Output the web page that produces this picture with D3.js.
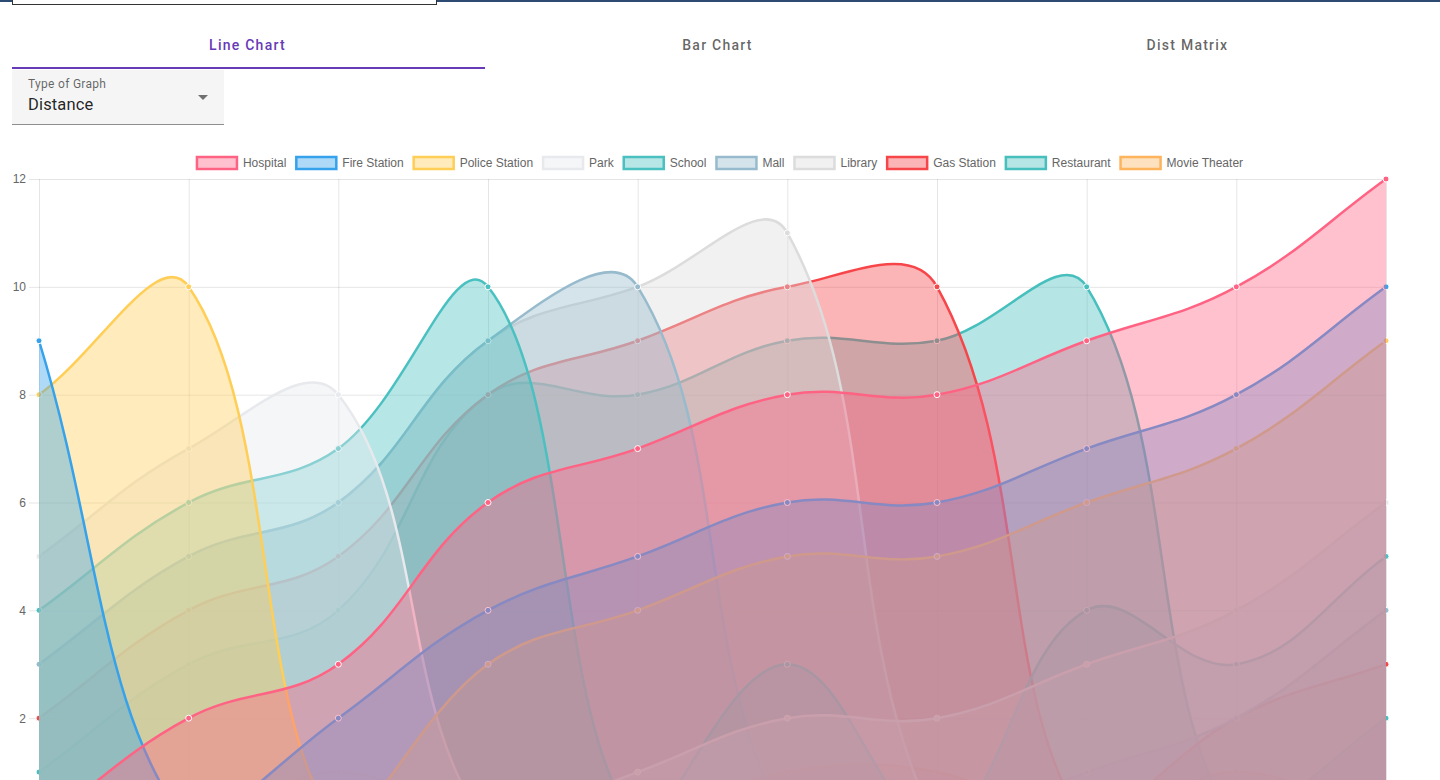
<!DOCTYPE html>
<html lang="en">
<head>
  <meta charset="UTF-8">
  <title>Line Chart</title>
  <style>
    body, html {
      margin: 0;
      padding: 0;
      width: 1440px;
      height: 780px;
      overflow: hidden;
      background: #fff;
      font-family: Roboto, "Noto Sans", sans-serif;
    }
    .topbar { position: absolute; left: 0; top: 0; width: 1440px; height: 2px; background: #2d4a73; }
    .searchbox { position: absolute; left: 12px; top: -20px; width: 423px; height: 23px; border: 1px solid #333; background: #fff; }
    .tab {
      position: absolute; top: 24px; width: 471px; height: 42px;
      text-align: center; line-height: 42px;
      font-size: 14px; font-weight: 500; letter-spacing: 1.25px;
      color: rgba(0, 0, 0, 0.62);
    }
    .tab.active { color: #673ab7; }
    .ink { position: absolute; left: 12px; top: 67px; width: 473px; height: 2px; background: #673ab7; }
    .select {
      position: absolute; left: 12px; top: 70px; width: 212px; height: 54px;
      background: #f5f5f5; border-bottom: 1px solid rgba(0, 0, 0, 0.42);
    }
    .select .label { position: absolute; left: 16px; top: 7px; font-size: 12px; color: rgba(0, 0, 0, 0.6); letter-spacing: 0.3px; }
    .select .value { position: absolute; left: 16px; top: 25px; font-size: 16.5px; color: rgba(0, 0, 0, 0.87); letter-spacing: 0.15px; }
    .select .arrow {
      position: absolute; left: 186px; top: 25px; width: 0; height: 0;
      border-left: 5px solid transparent; border-right: 5px solid transparent;
      border-top: 5px solid rgba(0, 0, 0, 0.54);
    }
    #svg { position: absolute; left: 0; top: 0; }
  </style>
</head>
<body>
  <div class="topbar"></div>
  <div class="searchbox"></div>

  <div class="tab active" style="left:12px">Line Chart</div>
  <div class="tab" style="left:482px">Bar Chart</div>
  <div class="tab" style="left:952px">Dist Matrix</div>
  <div class="ink"></div>

  <div class="select">
    <div class="label">Type of Graph</div>
    <div class="value">Distance</div>
    <div class="arrow"></div>
  </div>

  <svg id="svg" width="1440" height="780"></svg>

  <script src="https://d3js.org/d3.v7.min.js"></script>
  <script>
    // x categories (their labels sit below the visible window, so none are drawn)
    const categories = ['1', '2', '3', '4', '5', '6', '7', '8', '9', '10']
    const yTicks = [0, 2, 4, 6, 8, 10, 12]
    const yLabels = [2, 4, 6, 8, 10, 12]

    const seriesNames = ['Hospital', 'Fire Station', 'Police Station', 'Park', 'School',
      'Mall', 'Library', 'Gas Station', 'Restaurant', 'Movie Theater']

    // distances
    const hospital = [0, 2, 3, 6, 7, 8, 8, 9, 10, 12]
    const fireStation = [9, 0, 2, 4, 5, 6, 6, 7, 8, 10]
    const policeStation = [8, 10, 0, 3, 4, 5, 5, 6, 7, 9]
    const park = [5, 7, 8, 0, 1, 2, 2, 3, 4, 6]
    const school = [4, 6, 7, 10, 0, 3, 0, 4, 3, 5]
    const mall = [3, 5, 6, 9, 10, 0, 0, 1, 2, 4]
    const library = [3, 5, 6, 9, 10, 11, 0, 0, 0, 0]
    const gasStation = [2, 4, 5, 8, 9, 10, 10, 0, 2, 3]
    const restaurant = [1, 3, 4, 8, 8, 9, 9, 10, 0, 2]
    const movieTheater = [0, 0, 1, 0, 0, 1, 1, 0, 1, 0]

    const seriesValues = [hospital, fireStation, policeStation, park, school,
      mall, library, gasStation, restaurant, movieTheater]

    const seriesColors = ['#ff6384', '#36a2eb', '#ffce56', '#e7e9ed', '#4bc0c0',
      '#97bbcd', '#dcdcdc', '#f7464a', '#46bfbd', '#fdb45c']

    const area = { left: 39, right: 1386, top: 179, bottom: 826 }
    const fontFamily = '"Liberation Sans", Helvetica, Arial, sans-serif'

    const svg = d3.select('#svg')

    const x = d3.scalePoint()
      .domain(categories)
      .range([area.left, area.right])

    const y = d3.scaleLinear()
      .domain([0, 12])
      .range([area.bottom, area.top])

    // Chart.js style bezier (tension 0.4, control points capped to the chart area)
    function ChartSpline(context) { this._context = context }
    ChartSpline.prototype = {
      areaStart() { this._line = 0 },
      areaEnd() { this._line = NaN },
      lineStart() { this._pts = [] },
      point(px, py) { this._pts.push([+px, +py]) },
      lineEnd() {
        const p = this._pts
        const c = this._context
        const t = 0.4
        const cap = q => [
          Math.max(area.left, Math.min(area.right, q[0])),
          Math.max(area.top, Math.min(area.bottom, q[1]))
        ]
        const ctrl = p.map((cur, i) => {
          const prev = p[i - 1] || cur
          const next = p[i + 1] || cur
          const d01 = Math.hypot(cur[0] - prev[0], cur[1] - prev[1])
          const d12 = Math.hypot(next[0] - cur[0], next[1] - cur[1])
          let s01 = d01 / (d01 + d12)
          let s12 = d12 / (d01 + d12)
          if (isNaN(s01)) s01 = 0
          if (isNaN(s12)) s12 = 0
          const fa = t * s01
          const fb = t * s12
          return {
            before: cap([cur[0] - fa * (next[0] - prev[0]), cur[1] - fa * (next[1] - prev[1])]),
            after: cap([cur[0] + fb * (next[0] - prev[0]), cur[1] + fb * (next[1] - prev[1])])
          }
        })
        p.forEach((q, i) => {
          if (i === 0) {
            this._line ? c.lineTo(q[0], q[1]) : c.moveTo(q[0], q[1])
          } else {
            c.bezierCurveTo(ctrl[i - 1].after[0], ctrl[i - 1].after[1],
              ctrl[i].before[0], ctrl[i].before[1], q[0], q[1])
          }
        })
        if (this._line || (this._line !== 0 && p.length === 1)) c.closePath()
        this._line = 1 - this._line
      }
    }
    const chartSpline = context => new ChartSpline(context)

    // horizontal grid lines
    svg.append('g')
      .attr('transform', `translate(${area.left}, 0)`)
      .call(d3.axisLeft(y).tickValues(yTicks).tickSize(-(area.right - area.left)).tickFormat(''))
      .call(g => g.select('.domain').remove())
      .call(g => g.selectAll('line').attr('stroke', 'rgba(0,0,0,0.1)'))

    // vertical grid lines
    svg.append('g')
      .attr('transform', `translate(0, ${area.bottom})`)
      .call(d3.axisBottom(x).tickSize(-(area.bottom - area.top)).tickFormat(''))
      .call(g => g.select('.domain').remove())
      .call(g => g.selectAll('line').attr('stroke', 'rgba(0,0,0,0.1)'))

    // y axis labels with small ticks
    svg.append('g')
      .attr('transform', `translate(${area.left}, 0)`)
      .call(d3.axisLeft(y).tickValues(yLabels).tickSize(10).tickPadding(3))
      .call(g => g.select('.domain').remove())
      .call(g => g.selectAll('line').attr('stroke', 'rgba(0,0,0,0.1)'))
      .call(g => g.selectAll('text')
        .attr('fill', '#666')
        .attr('font-size', 12)
        .attr('font-family', fontFamily))

    const datasets = seriesNames.map((name, i) => ({
      name: name,
      color: seriesColors[i],
      fill: d3.color(seriesColors[i]).copy({ opacity: 0.4 }).toString(),
      points: seriesValues[i].map((v, j) => ({ cat: categories[j], value: v }))
    }))

    const lineGen = d3.line()
      .x(d => x(d.cat))
      .y(d => y(d.value))
      .curve(chartSpline)

    const areaGen = d3.area()
      .x(d => x(d.cat))
      .y0(y(0))
      .y1(d => y(d.value))
      .curve(chartSpline)

    // Chart.js paints the last dataset first
    const layers = svg.append('g')
      .selectAll('g')
      .data(datasets.slice().reverse())
      .join('g')

    layers.append('path')
      .attr('d', d => areaGen(d.points))
      .attr('fill', d => d.fill)

    layers.append('path')
      .attr('d', d => lineGen(d.points))
      .attr('fill', 'none')
      .attr('stroke', d => d.color)
      .attr('stroke-width', 2.5)

    layers.selectAll('circle')
      .data(d => d.points.map(p => ({ ...p, color: d.color })))
      .join('circle')
      .attr('cx', d => x(d.cat))
      .attr('cy', d => y(d.value))
      .attr('r', 3)
      .attr('fill', d => d.color)
      .attr('stroke', '#fff')
      .attr('stroke-width', 1)

    // legend, centred on the canvas
    const legend = svg.append('g')
    const items = legend.selectAll('g')
      .data(datasets)
      .join('g')

    items.append('rect')
      .attr('width', 40)
      .attr('height', 12)
      .attr('fill', d => d.fill)
      .attr('stroke', d => d.color)
      .attr('stroke-width', 2.5)

    items.append('text')
      .text(d => d.name)
      .attr('x', 46)
      .attr('y', 10)
      .attr('fill', '#666')
      .attr('font-size', 12)
      .attr('font-family', fontFamily)

    let offset = 0
    const starts = []
    items.each(function () {
      const w = 46 + this.querySelector('text').getComputedTextLength()
      starts.push(offset)
      offset += w + 10
    })
    const total = offset - 10
    const startX = 720 - total / 2
    items.attr('transform', (d, i) => `translate(${startX + starts[i]}, 157)`)
  </script>
</body>
</html>
